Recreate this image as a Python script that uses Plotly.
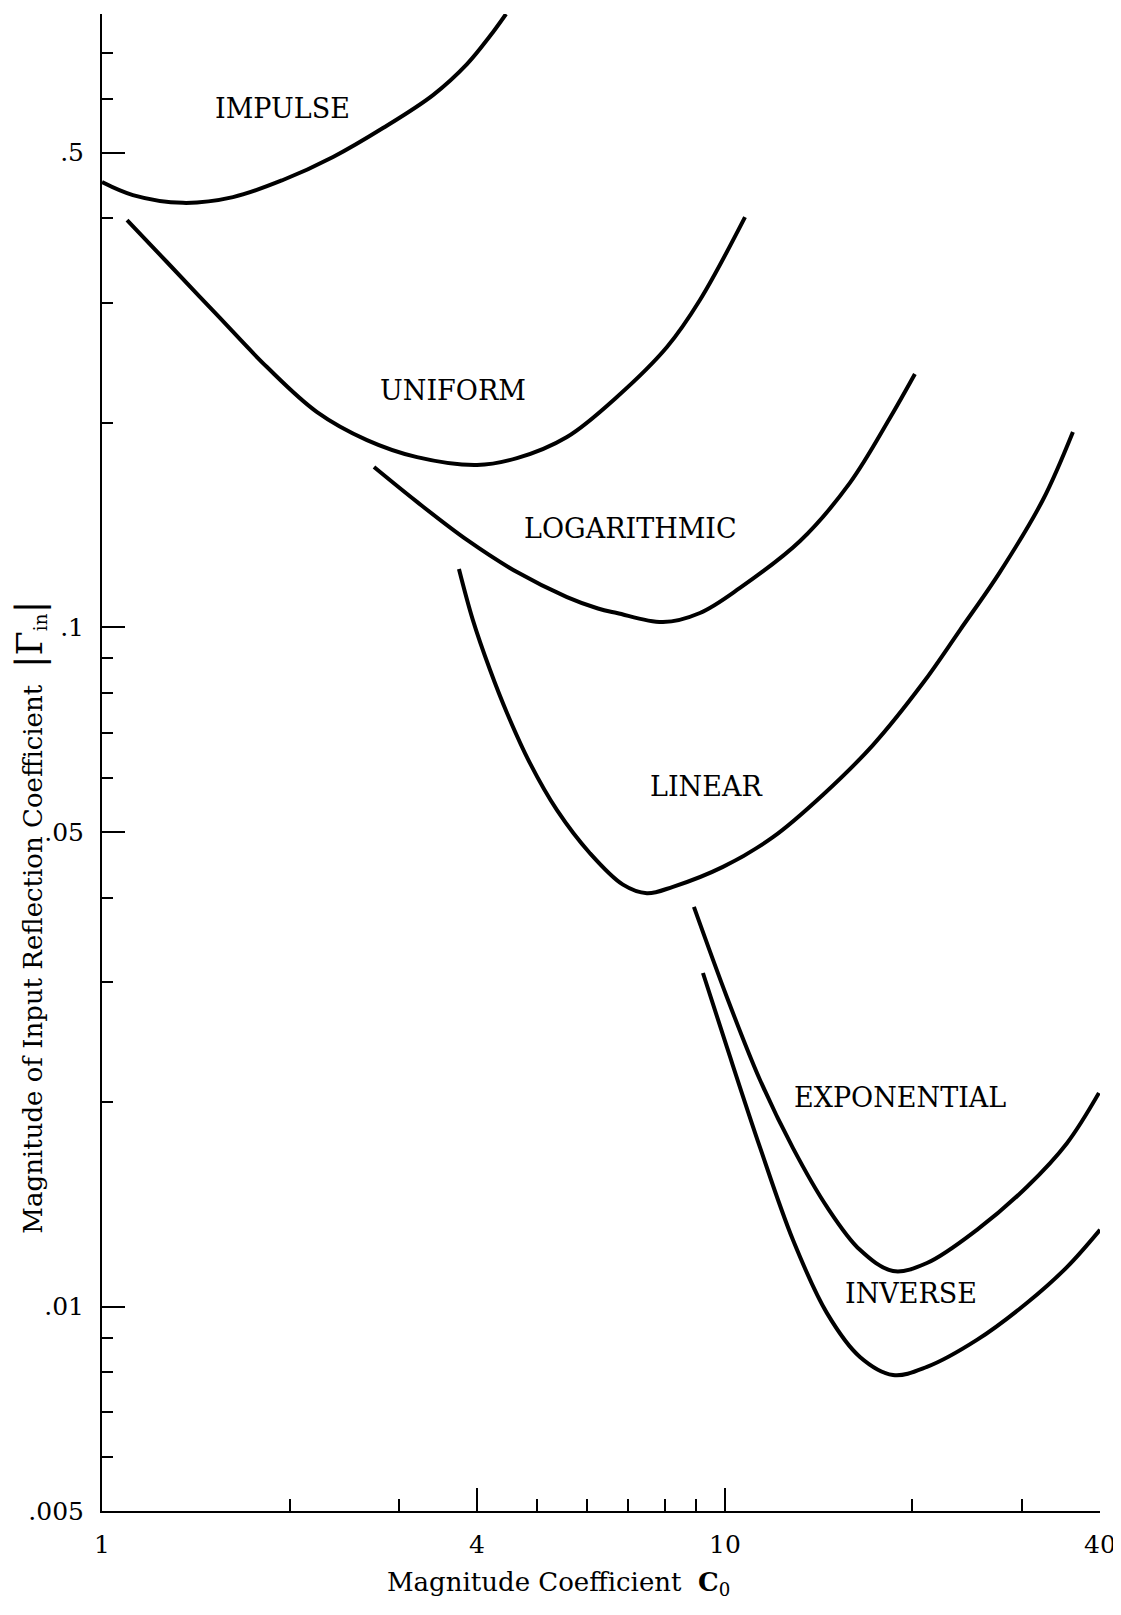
import plotly.graph_objects as go

# ---- data ----
impulse_c = [1.0, 1.121, 1.349, 1.623, 1.952, 2.349, 2.825, 3.399, 3.854, 4.196, 4.452]
impulse_g = [0.4525, 0.433, 0.4217, 0.430, 0.4557, 0.4927, 0.5435, 0.6078, 0.675, 0.7423, 0.80]

uniform_c = [1.097, 1.271, 1.530, 1.840, 2.214, 2.663, 3.204, 3.999, 4.636, 5.577, 6.708, 8.071, 9.117, 10.77]
uniform_g = [0.3977, 0.3451, 0.2884, 0.2417, 0.2075, 0.1887, 0.1781, 0.1734, 0.1775, 0.1907, 0.2184, 0.2587, 0.3034, 0.4018]

log_c = [2.733, 3.204, 3.854, 4.636, 5.577, 6.254, 6.708, 7.953, 9.117, 10.57, 13.20, 15.87, 18.40, 20.18]
log_g = [0.1722, 0.1530, 0.1345, 0.1206, 0.1108, 0.1066, 0.1050, 0.1018, 0.1050, 0.1143, 0.1340, 0.1632, 0.2033, 0.2360]

linear_c = [3.741, 3.939, 4.196, 4.468, 4.864, 5.375, 6.071, 6.859, 7.494, 8.251, 9.926, 11.94, 14.37, 17.28, 20.79, 23.84, 27.63, 32.38, 36.19]
linear_g = [0.1219, 0.1025, 0.0866, 0.0748, 0.0631, 0.0538, 0.0465, 0.0418, 0.0406, 0.0415, 0.0444, 0.0491, 0.0567, 0.0671, 0.0828, 0.0991, 0.1206, 0.1540, 0.1940]

expo_c = [8.916, 10.07, 11.38, 12.86, 14.58, 16.47, 18.61, 21.10, 25.38, 30.52, 35.40, 39.84]
expo_g = [0.03876, 0.02856, 0.02157, 0.01711, 0.01402, 0.01212, 0.01128, 0.01159, 0.01297, 0.0150, 0.0174, 0.02063]

inverse_c = [9.219, 10.07, 11.38, 12.86, 14.58, 16.47, 18.61, 21.10, 25.38, 30.52, 35.40, 40.0]
inverse_g = [0.03098, 0.02411, 0.01717, 0.01253, 0.00978, 0.00843, 0.00793, 0.00815, 0.00893, 0.01012, 0.01143, 0.01297]

curve_names = ["IMPULSE", "UNIFORM", "LOGARITHMIC", "LINEAR", "EXPONENTIAL", "INVERSE"]

x_major = [1, 4, 10, 40]
x_major_text = ["1", "4", "10", "40"]
x_minor = [2, 3, 5, 6, 7, 8, 9, 20, 30]
y_major = [0.005, 0.01, 0.05, 0.1, 0.5]
y_major_text = [".005", ".01", ".05", ".1", ".5"]
y_minor = [0.006, 0.007, 0.008, 0.009, 0.02, 0.03, 0.04, 0.06, 0.07, 0.08, 0.09,
           0.2, 0.3, 0.4, 0.6, 0.7, 0.8]

FONT = "DejaVu Serif"

fig = go.Figure()
series = [(impulse_c, impulse_g), (uniform_c, uniform_g), (log_c, log_g),
          (linear_c, linear_g), (expo_c, expo_g), (inverse_c, inverse_g)]
for name, (cx, gy) in zip(curve_names, series):
    fig.add_trace(go.Scatter(x=cx, y=gy, mode="lines", name=name,
                             line=dict(color="black", width=4, shape="spline", smoothing=1.0),
                             showlegend=False, hoverinfo="skip"))

# label positions (paper coordinates)
label_pos = {
    "IMPULSE": (0.1804, 0.9372),
    "UNIFORM": (0.3517, 0.7482),
    "LOGARITHMIC": (0.5291, 0.656),
    "LINEAR": (0.6052, 0.4843),
    "EXPONENTIAL": (0.7996, 0.2759),
    "INVERSE": (0.8106, 0.1456),
}
for name in curve_names:
    px, py = label_pos[name]
    fig.add_annotation(x=px, y=py, xref="paper", yref="paper", text=name,
                       showarrow=False, xanchor="center", yanchor="middle",
                       font=dict(family=FONT, size=27, color="black"))

# axis titles
fig.add_annotation(x=0.2836, y=-0.036, xref="paper", yref="paper",
                   text="Magnitude Coefficient  <b>C</b><sub>0</sub>",
                   showarrow=False, xanchor="left", yanchor="top",
                   font=dict(family=FONT, size=26, color="black"))
fig.add_annotation(x=-0.0735, y=0.3968, xref="paper", yref="paper",
                   text="Magnitude of Input Reflection Coefficient  "
                        "<span style=\"font-size:38px\">|</span>"
                        "<span style=\"font-size:35px\">Γ</span><sub>in</sub>"
                        "<span style=\"font-size:38px\">|</span>",
                   showarrow=False, textangle=-90, xanchor="center", yanchor="middle",
                   font=dict(family=FONT, size=26, color="black"))

axis_common = dict(showgrid=False, zeroline=False, showline=True, linecolor="black",
                   linewidth=2, ticks="inside", tickcolor="black", tickwidth=2,
                   ticklen=23, tickfont=dict(family=FONT, size=25, color="black"))

fig.update_xaxes(type="log", range=[0, 1.60206], tickmode="array",
                 tickvals=x_major, ticktext=x_major_text, ticklabelstandoff=10,
                 minor=dict(tickmode="array", tickvals=x_minor, ticks="inside",
                            ticklen=12, tickwidth=2, tickcolor="black", showgrid=False),
                 **axis_common)
fig.update_yaxes(type="log", range=[-2.30103, -0.09691], tickmode="array",
                 tickvals=y_major, ticktext=y_major_text, ticklabelstandoff=11,
                 minor=dict(tickmode="array", tickvals=y_minor, ticks="inside",
                            ticklen=11, tickwidth=2, tickcolor="black", showgrid=False),
                 **axis_common)

# page body adds an 8px offset; margins compensate so the plot area lands where the reference has it
fig.update_layout(width=1121, height=1615,
                  margin=dict(l=94, r=29, t=6, b=112),
                  paper_bgcolor="white", plot_bgcolor="white",
                  font=dict(family=FONT, color="black"))

fig.write_html("out.html")
